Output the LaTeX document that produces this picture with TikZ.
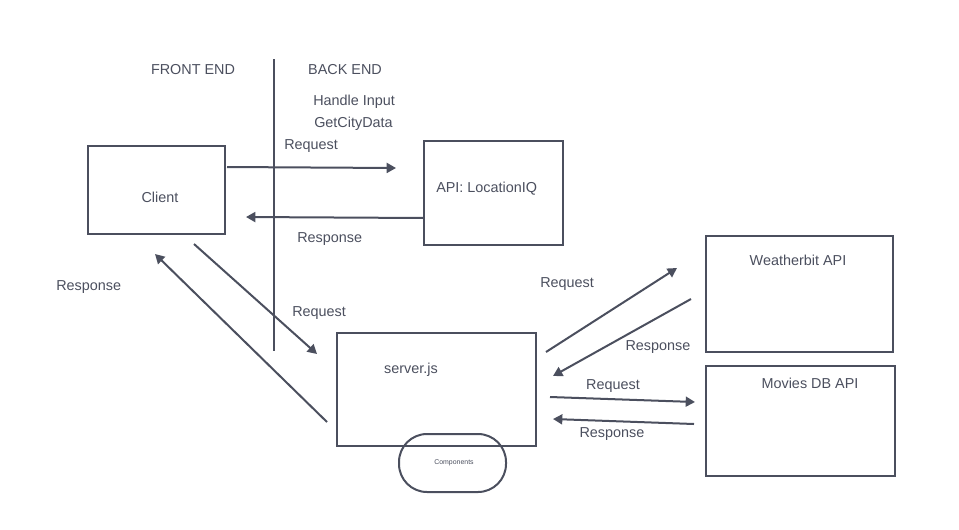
\documentclass[tikz,border=0pt]{standalone}
\usepackage{fontspec}
\setmainfont{Liberation Sans}
\usetikzlibrary{arrows.meta}
\definecolor{ink}{RGB}{75,79,94}
\tikzset{
  box/.style={draw=ink, line width=1.5pt, inner sep=0pt},
  txt/.style={text=ink, inner sep=0.75pt, font=\fontsize{10.8}{12}\selectfont},
  arr/.style={draw=ink, line width=1.5pt, -{Triangle[length=7pt,width=7.5pt]}},
}
\begin{document}
\begin{tikzpicture}[x=0.75pt,y=0.75pt,yscale=-1,xscale=1]
\useasboundingbox (0,0) rectangle (959,529);

%Shape: Boxes
\node [box, minimum width=102.75pt, minimum height=66pt] (client) at (156.5,190) {};
\node [box, minimum width=104.25pt, minimum height=78pt] (locIQ) at (493.5,193) {};
\node [box, minimum width=149.25pt, minimum height=84.75pt] (server) at (436.5,389.5) {};
\node [box, minimum width=140.25pt, minimum height=87pt] (weather) at (799.5,294) {};
\node [box, minimum width=141.75pt, minimum height=82.5pt] (movies) at (800.5,421) {};
%Shape: Rounded blob
\node [box, rounded corners=21pt, minimum width=80.25pt, minimum height=43.5pt] (comp) at (452.5,463) {};
\node [text=ink, inner sep=0pt, font=\fontsize{5.2}{6}\selectfont] (compTxt) at (454,463) {Components};

%Straight Lines: divider
\coordinate (divTop) at (274,59);
\coordinate (divBot) at (274,351);
\draw [draw=ink, line width=1.5pt] (divTop) -- (divBot);

%Arrow ends
\coordinate (a1s) at (227,167);  \coordinate (a1e) at (396,168);
\coordinate (a2s) at (424,218);  \coordinate (a2e) at (246,217);
\coordinate (a3s) at (194,244);  \coordinate (a3e) at (317,354);
\coordinate (a4s) at (327,422);  \coordinate (a4e) at (155,254);
\coordinate (a5s) at (546,352);  \coordinate (a5e) at (677,268);
\coordinate (a6s) at (691,299);  \coordinate (a6e) at (553,376);
\coordinate (a7s) at (550,397);  \coordinate (a7e) at (695,402);
\coordinate (a8s) at (694,424);  \coordinate (a8e) at (553,419);

\draw [arr] (a1s) -- (a1e);
\draw [arr] (a2s) -- (a2e);
\draw [arr] (a3s) -- (a3e);
\draw [arr] (a4s) -- (a4e);
\draw [arr] (a5s) -- (a5e);
\draw [arr] (a6s) -- (a6e);
\draw [arr] (a7s) -- (a7e);
\draw [arr] (a8s) -- (a8e);

% Text Node
\node [txt] (front) at (193,70) {FRONT END};
\node [txt] (back) at (345,70) {BACK END};
\node [txt, anchor=west] (handle) at (312,102) {Handle Input};
\node [txt, anchor=west] (getCity) at (313,124) {GetCityData};
\node [txt, anchor=west] (req1) at (283,146) {Request};
\node [txt] (clientTxt) at (160,197) {Client};
\node [txt, anchor=west] (locTxt) at (435,189) {API: LocationIQ};
\node [txt, anchor=west] (res1) at (296,239) {Response};
\node [txt, anchor=west] (res2) at (55,287) {Response};
\node [txt, anchor=west] (req2) at (291,313) {Request};
\node [txt, anchor=west] (req3) at (539,284) {Request};
\node [txt] (weatherTxt) at (798,260) {Weatherbit API};
\node [txt] (res3) at (658,347) {Response};
\node [txt] (serverTxt) at (411,370) {server.js};
\node [txt] (req4) at (613,386) {Request};
\node [txt] (moviesTxt) at (810,383) {Movies DB API};
\node [txt] (res4) at (612,434) {Response};

\end{tikzpicture}
\end{document}
